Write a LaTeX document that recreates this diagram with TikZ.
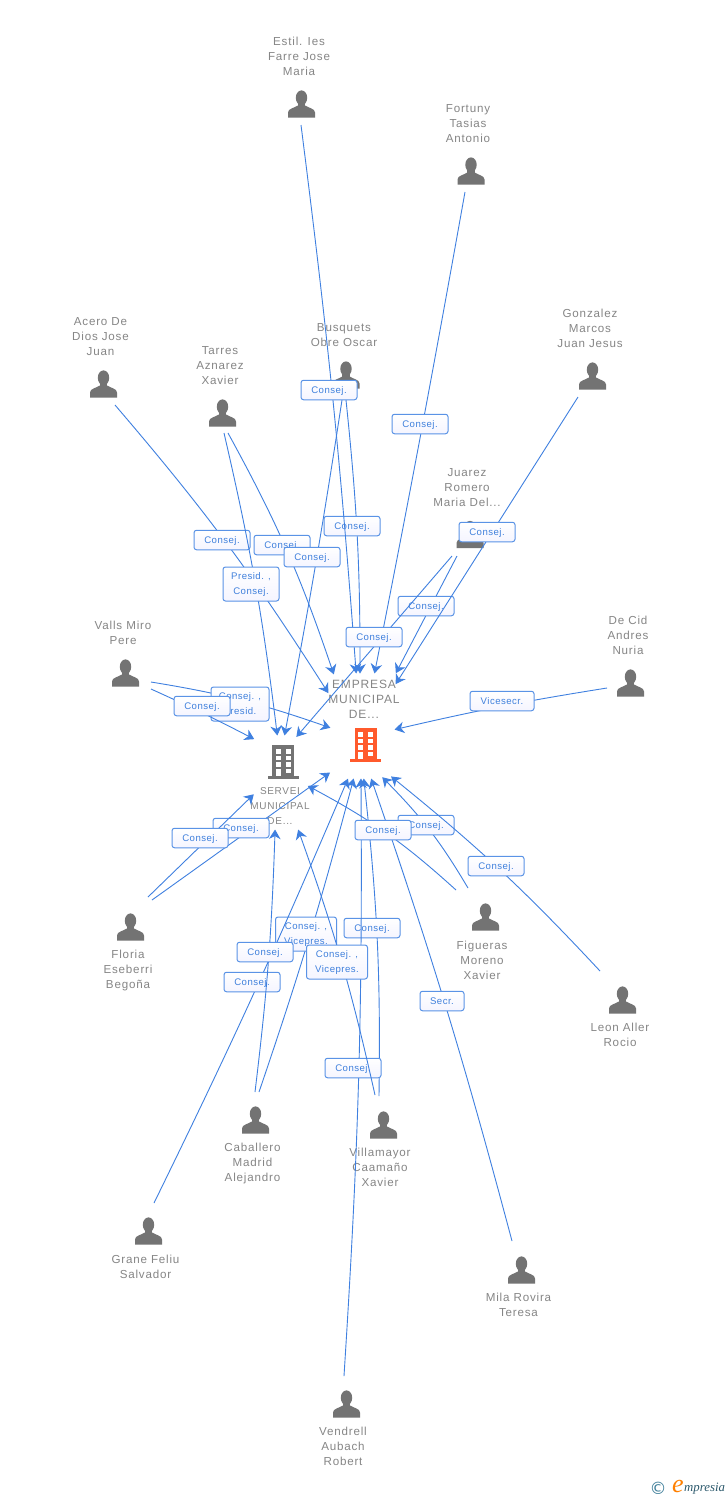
\documentclass[tikz,border=0pt]{standalone}
\usepackage{fontspec}
\setmainfont{Liberation Sans}
\newfontfamily\namefont[LetterSpace=7]{Liberation Sans}
\newfontfamily\tagfont[LetterSpace=5]{Liberation Sans}
\newfontfamily\markfont{Liberation Serif}
\newfontfamily\copyfont{DejaVu Sans}
\usetikzlibrary{arrows.meta}
\definecolor{linkblue}{HTML}{3F80E0}
\definecolor{tagborder}{HTML}{5A93E6}
\definecolor{tagtext}{HTML}{3F80DC}
\definecolor{namegrey}{HTML}{868686}
\definecolor{icongrey}{HTML}{737373}
\definecolor{orgorange}{HTML}{FF5A2C}
\definecolor{markteal}{HTML}{3F7F9A}
\tikzset{
  link/.style={draw=linkblue,line width=0.9pt,shorten >=-2.5pt,-{Stealth[length=9.5pt,width=11.5pt,inset=3pt]}},
  tagbox/.style={draw=tagborder,line width=1pt,rounded corners=2.5pt,top color=white,bottom color=tagfill,
    text=tagtext,font=\tagfont\fontsize{9.6}{15}\selectfont,align=center,inner sep=0pt,minimum height=19.5pt,minimum width=56pt},
  two/.style={minimum height=34pt},
  personname/.style={text=namegrey,font=\namefont\fontsize{11.6}{15}\selectfont,align=center,inner sep=0pt,yshift=-0.5pt},
  orgbig/.style={text=namegrey,font=\namefont\fontsize{12}{15}\selectfont,align=center,inner sep=0pt},
  orgsmall/.style={text=namegrey,font=\namefont\fontsize{10}{15}\selectfont,align=center,inner sep=0pt},
  iconspot/.style={inner sep=0pt,minimum size=27pt},
  personicon/.pic={
    \fill[icongrey] (0,-6.2) ellipse (5.7 and 7.4);
    \fill[icongrey] (-3.8,-3) rectangle (3.8,3);
    \fill[icongrey] (-13.5,13.5) -- (-13.5,8.5) .. controls (-13.5,4.5) and (-7,4) .. (-3.8,1.5) -- (3.8,1.5)
      .. controls (7,4) and (13.5,4.5) .. (13.5,8.5) -- (13.5,13.5) -- cycle;
  },
  buildingicon/.pic={
    \fill[pic actions] (-11,-17) rectangle (11,14);
    \fill[pic actions] (-15.5,14) rectangle (15.5,17);
    \foreach \py in {-13,-6.5,0}{
      \fill[white] (-7.5,\py) rectangle (-2.5,\py+4.5);
      \fill[white] (2.5,\py) rectangle (7.5,\py+4.5);
    }
    \fill[white] (-7.5,6.5) rectangle (-2.5,14);
    \fill[white] (2.5,6.5) rectangle (7.5,11);
  }
}
\colorlet{tagfill}{blue!4!white}
% name, start, end, bend, label position, label options, label text
\newcommand{\lnk}[7]{%
  \coordinate (#1-s) at (#2);
  \coordinate (#1-e) at (#3);
  \draw[link] (#1-s) to[#4] (#1-e);
  \node[tagbox,#6] (#1-l) at (#5) {\strut#7\strut};
}
\newcommand{\person}[4]{% name, icon pos, text pos, text
  \node[iconspot] (#1) at (#2) {};
  \pic at (#1) {personicon};
  \node[personname] (#1-t) at (#3) {#4};
}
\begin{document}
\begin{tikzpicture}[x=1pt,y=-1pt]
\useasboundingbox (0,0) rectangle (728,1500);
\fill[white] (0,0) rectangle (728,1500);

\person{estil}{301.5,104}{299,56}{Estil. Ies\\Farre Jose\\Maria}
\person{fortuny}{471,171}{468,123.5}{Fortuny\\Tasias\\Antonio}
\person{gonzalez}{592.5,376}{590,328}{Gonzalez\\Marcos\\Juan Jesus}
\person{acero}{103.5,384}{100.5,336.5}{Acero De\\Dios Jose\\Juan}
\person{tarres}{222.5,413}{220,365.5}{Tarres\\Aznarez\\Xavier}
\person{busquets}{346,375}{344,335}{Busquets\\Obre Oscar}
\person{juarez}{470,534.5}{467,487.5}{Juarez\\Romero\\Maria Del...}
\person{valls}{125.5,673}{123,632.5}{Valls Miro\\Pere}
\person{decid}{630.5,683}{628,635}{De Cid\\Andres\\Nuria}
\person{floria}{130.5,927}{128,969.5}{Floria\\Eseberri\\Begoña}
\person{figueras}{485.5,917}{482,960}{Figueras\\Moreno\\Xavier}
\person{leon}{622.5,1000}{620,1034.5}{Leon Aller\\Rocio}
\person{caballero}{255.5,1120}{252.5,1162.5}{Caballero\\Madrid\\Alejandro}
\person{villamayor}{383.5,1125}{380,1167}{Villamayor\\Caamaño\\Xavier}
\person{grane}{148.5,1231}{145.5,1266.5}{Grane Feliu\\Salvador}
\person{mila}{521.5,1270}{518.5,1304.5}{Mila Rovira\\Teresa}
\person{vendrell}{346.5,1404}{343,1446}{Vendrell\\Aubach\\Robert}

\node[orgbig] (empresa-t) at (364,699) {EMPRESA\\MUNICIPAL\\DE...};
\node[orgsmall] (servei-t) at (280,806) {SERVEI\\MUNICIPAL\\DE...};
\node[iconspot] (empresa) at (365.5,745) {};
\pic[fill=orgorange] at (empresa) {buildingicon};
\node[iconspot] (servei) at (283,762) {};
\pic[fill=icongrey] at (servei) {buildingicon};

\lnk{acero-l1}{115,405}{327,691}{bend left=4}{222,540}{}{Consej.}
\lnk{tarres-l2}{228,433}{333,672}{bend left=5}{282,545}{}{Consej.}
\lnk{busquets-l1}{342,400}{285,733}{bend left=1}{312,557}{}{Consej.}
\lnk{busquets-l2}{346,400}{360,671}{bend left=3}{352,526}{}{Consej.}
\lnk{estil-l}{301,125}{356,671}{bend left=1.5}{329,390}{}{Consej.}
\lnk{fortuny-l}{465,192}{375,671}{bend left=0.5}{420,424}{}{Consej.}
\lnk{juarez-l2}{457,556}{397,671}{bend left=0}{426,606}{}{Consej.}
\lnk{juarez-l1}{452,556}{298,735}{bend left=0}{374,637}{}{Consej.}
\lnk{gonzalez-l}{578,397}{397,682}{bend left=0}{487,532}{}{Consej.}
\lnk{valls-l1}{151,682}{328,727}{bend left=5}{240,704}{two,minimum width=58pt}{Consej. ,\\Presid.}
\lnk{valls-l2}{151,689}{252,738}{bend left=1.5}{202,706}{}{Consej.}
\lnk{tarres-l1}{224,433}{277,733}{bend left=3}{251,584}{two,minimum width=56pt}{Presid. ,\\Consej.}
\lnk{decid-l}{607,688}{397,729}{bend right=2}{502,701}{minimum width=64pt}{Vicesecr.}
\lnk{floria-l2}{152,900}{328,774}{bend left=0}{241,828}{}{Consej.}
\lnk{floria-l1}{148,897}{252,796}{bend left=0}{200,838}{}{Consej.}
\lnk{caballero-l2}{259,1092}{353,781}{bend right=2}{306,934}{two,minimum width=61pt}{Consej. ,\\Vicepres.}
\lnk{grane-l}{154,1203}{347,781}{bend right=1.5}{252,982}{}{Consej.}
\lnk{caballero-l1}{255,1092}{275,832}{bend right=2.5}{265,952}{}{Consej.}
\lnk{villamayor-l1}{379,1096}{364,781}{bend right=3.5}{372,928}{}{Consej.}
\lnk{vendrell-l}{344,1376}{361,781}{bend right=2}{353,1068}{}{Consej.}
\lnk{villamayor-l2}{375,1095}{299,832}{bend right=3.5}{337,962}{two,minimum width=61pt}{Consej. ,\\Vicepres.}
\lnk{mila-l}{512,1241}{372,781}{bend right=2}{442,1001}{minimum width=44pt}{Secr.}
\lnk{figueras-l2}{468,888}{384,779}{bend right=7}{426,825}{}{Consej.}
\lnk{figueras-l1}{456,890}{310,787}{bend right=7}{383,830}{}{Consej.}
\lnk{leon-l}{600,971}{393,778}{bend right=4}{496,866}{}{Consej.}

\node[inner sep=0pt,text=markteal,font=\copyfont\fontsize{17}{17}\selectfont] (copymark) at (658,1488.5) {©};
\node[inner sep=0pt,text=orange,font=\markfont\itshape\fontsize{26}{26}\selectfont] (bigletter) at (678,1486) {e};
\node[inner sep=0pt,text=markteal!70!black,font=\markfont\itshape\fontsize{12.8}{13}\selectfont,anchor=west] (brand) at (684,1489) {mpresia};
\end{tikzpicture}
\end{document}
